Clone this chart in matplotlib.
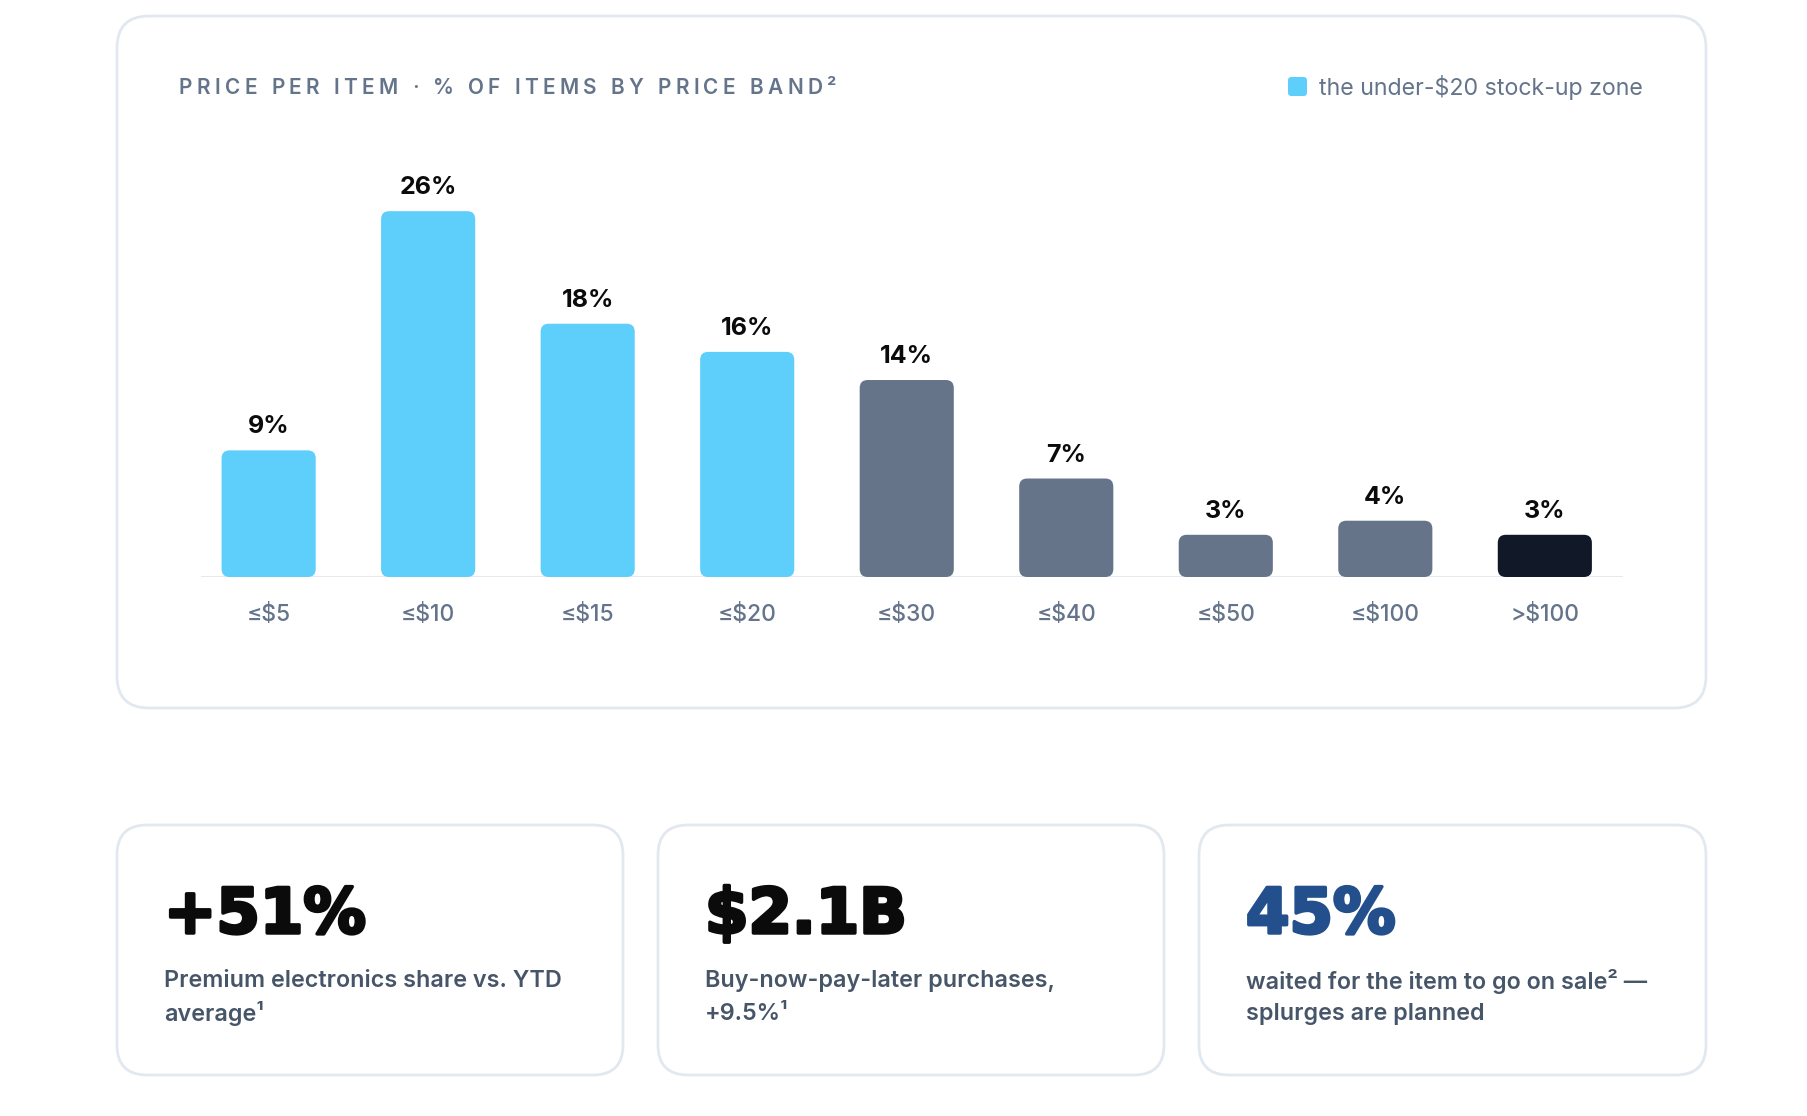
import matplotlib
matplotlib.use("Agg")
import matplotlib.pyplot as plt
import matplotlib.patheffects as pe
from matplotlib.patches import FancyBboxPatch
import numpy as np

# ---- data ----
bands = ["≤$5", "≤$10", "≤$15", "≤$20", "≤$30", "≤$40", "≤$50", "≤$100", ">$100"]
share = [9, 26, 18, 16, 14, 7, 3, 4, 3]
zone = ["stockup", "stockup", "stockup", "stockup", "mid", "mid", "mid", "mid", "premium"]

title = "PRICE PER ITEM · % OF ITEMS BY PRICE BAND²"
legend_label = "the under-$20 stock-up zone"

kpi_values = ["+51%", "$2.1B", "45%"]
kpi_lines = [
    ["Premium electronics share vs. YTD", "average¹"],
    ["Buy-now-pay-later purchases,", "+9.5%¹"],
    ["waited for the item to go on sale² —", "splurges are planned"],
]

# ---- styles ----
BLUE = "#5ecefa"
SLATE = "#66748a"
DARK = "#111827"
zone_colors = {"stockup": BLUE, "mid": SLATE, "premium": DARK}
kpi_colors = ["#0b0b0b", "#0b0b0b", "#234f8c"]
MUTED = "#64748b"
SUB = "#475569"
BORDER = "#e2e8f0"
SANS = ["Inter", "DejaVu Sans"]

W, H = 1808, 1116
fig = plt.figure(figsize=(W / 100, H / 100), dpi=100)
fig.patch.set_facecolor("white")

# background axes in pixel units (origin top-left)
bg = fig.add_axes([0, 0, 1, 1])
bg.set_xlim(0, W)
bg.set_ylim(H, 0)
bg.axis("off")


def card(x0, y0, x1, y1, r):
    bg.add_patch(FancyBboxPatch((x0, y0), x1 - x0, y1 - y0,
                                boxstyle=f"round,pad=0,rounding_size={r}",
                                facecolor="white", edgecolor=BORDER, linewidth=2))


card(117, 16, 1706, 708, 32)
card_x = [(117, 623), (658, 1164), (1199, 1706)]
for x0, x1 in card_x:
    card(x0, 825, x1, 1075, 30)

# letter-spaced title
renderer = fig.canvas.get_renderer()
tprops = dict(fontsize=15, fontweight="semibold", family=SANS, color=MUTED)


def text_w(s):
    t = bg.text(0, 0, s + "|", **tprops)
    w = t.get_window_extent(renderer).width
    t.remove()
    t = bg.text(0, 0, "|", **tprops)
    w -= t.get_window_extent(renderer).width
    t.remove()
    return w


target_w = 657
natural = text_w(title)
track = (target_w - natural) / (len(title) - 1)
for i, ch in enumerate(title):
    bg.text(179 + text_w(title[:i]) + i * track, 88, ch, va="center", ha="left", **tprops)

# legend
bg.add_patch(FancyBboxPatch((1288, 77), 19, 19, boxstyle="round,pad=0,rounding_size=3.5",
                            facecolor=BLUE, edgecolor="none"))
bg.text(1319, 88, legend_label, fontsize=16.7, color=MUTED, va="center", ha="left", family=SANS)

# KPI cards
for (x0, x1), val, lines, col in zip(card_x, kpi_values, kpi_lines, kpi_colors):
    bg.text(x0 + 47, 916, val, fontsize=45, fontweight="heavy", color=col,
            va="center", ha="left", family="DejaVu Sans",
            path_effects=[pe.withStroke(linewidth=2.5, foreground=col)])
    for j, ln in enumerate(lines):
        bg.text(x0 + 47, 981 + j * 33, ln, fontsize=16.8, fontweight="semibold", color=SUB,
                va="center", ha="left", family=SANS)

# ---- bar chart ----
ax_left, ax_right, ax_top, ax_bot = 201, 1623, 139, 577
ax = fig.add_axes([ax_left / W, 1 - ax_bot / H, (ax_right - ax_left) / W, (ax_bot - ax_top) / H])
ax.patch.set_alpha(0)
x = np.arange(len(bands))
xmin, xmax = -0.424, 8.49
ymax = (ax_bot - ax_top) / 14.07
ax.set_xlim(xmin, xmax)
ax.set_ylim(0, ymax)

px_x = (ax_right - ax_left) / (xmax - xmin)
px_y = (ax_bot - ax_top) / ymax
bw = 0.59
r = 8 / px_x
ax.axhline(0, color=BORDER, linewidth=2, zorder=1)
for xi, v, z in zip(x, share, zone):
    ax.add_patch(FancyBboxPatch((xi - bw / 2, 0), bw, v,
                                boxstyle=f"round,pad=0,rounding_size={r}",
                                mutation_aspect=px_x / px_y,
                                facecolor=zone_colors[z], edgecolor="none", zorder=2))
    ax.annotate(f"{v}%", (xi, v), xytext=(0, 17), textcoords="offset pixels",
                ha="center", va="baseline", fontsize=18, fontweight="bold", color="#0b0b0b",
                family=SANS)

ax.set_xticks(x)
ax.set_xticklabels(bands, fontsize=16.5, color=MUTED, fontweight=500, family=SANS)
ax.tick_params(axis="x", length=0, pad=19.5)
ax.set_yticks([])
for s in ax.spines.values():
    s.set_visible(False)

fig.savefig("out.png", dpi=100, facecolor="white")
